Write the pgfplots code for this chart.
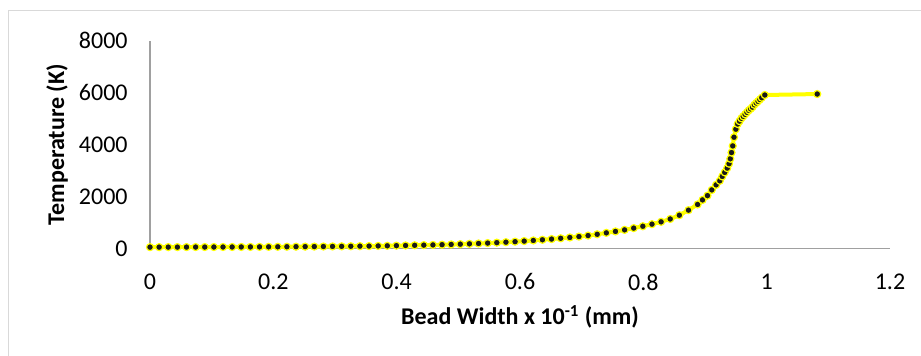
\documentclass[border=0pt]{standalone}
\usepackage{fontspec}
\setmainfont{Carlito}
\usepackage{pgfplots}
\pgfplotsset{compat=1.18}
\definecolor{axgray}{RGB}{160,160,160}
\definecolor{framegray}{RGB}{217,217,217}
\definecolor{yel}{RGB}{255,255,0}
\begin{document}
\fontsize{12bp}{14bp}\selectfont
\begin{tikzpicture}
\begin{axis}[
  scale only axis,
  width=370bp, height=103.8bp,
  xmin=0, xmax=1.2, ymin=0, ymax=8000,
  axis lines=left,
  axis line style={draw=axgray, line width=0.75bp, -},
  major tick length=0pt,
  xtick={0,0.2,0.4,0.6,0.8,1,1.2},
  xticklabels={0,0.2,0.4,0.6,0.8,1,1.2},
  ytick={0,2000,4000,6000,8000},
  yticklabels={0,2000,4000,6000,8000},
  scaled ticks=false,
  /pgf/number format/assume math mode=true,
  tick label style={font=\fontsize{12bp}{14bp}\selectfont, inner sep=0pt, text=black},
  yticklabel style={anchor=east, xshift=-11bp},
  xticklabel style={anchor=north, yshift=-12.5bp},
  every axis y label/.style={at={(axis description cs:0,0.5)}, xshift=-46.5bp, rotate=90, anchor=center},
  every axis x label/.style={at={(axis description cs:0.5,0)}, yshift=-34.2bp, anchor=center},
  ylabel={\fontsize{12bp}{14bp}\selectfont\bfseries Temperature (K)},
  xlabel={\fontsize{12bp}{14bp}\selectfont\bfseries Bead Width x 10\textsuperscript{-1} (mm)},
  clip=false,
]
\addplot[color=yel, line width=2.0bp, mark=*, mark size=1.75bp,
  mark options={fill=black!90, draw=yel, line width=0.6bp}] table {
x y
0.0000 45
0.0148 45
0.0296 46
0.0444 46
0.0592 47
0.0740 48
0.0888 48
0.1036 49
0.1184 50
0.1332 51
0.1480 52
0.1628 53
0.1776 55
0.1924 56
0.2072 58
0.2220 60
0.2368 62
0.2516 64
0.2664 66
0.2812 69
0.2960 72
0.3108 75
0.3256 78
0.3404 82
0.3552 86
0.3700 91
0.3848 96
0.3996 102
0.4144 108
0.4292 115
0.4440 122
0.4588 130
0.4736 139
0.4884 149
0.5032 160
0.5180 172
0.5328 186
0.5476 201
0.5624 218
0.5772 236
0.5920 256
0.6068 278
0.6216 302
0.6364 328
0.6512 356
0.6660 386
0.6808 418
0.6956 452
0.7104 490
0.7252 540
0.7400 595
0.7548 650
0.7696 710
0.7844 778
0.7992 850
0.8140 930
0.8288 1020
0.8436 1130
0.8584 1275
0.8732 1470
0.8880 1690
0.896 1865
0.904 2030
0.911 2250
0.918 2445
0.924 2600
0.928 2770
0.932 2925
0.936 3090
0.939 3260
0.941 3450
0.943 3690
0.945 3945
0.947 4280
0.950 4590
0.953 4790
0.956 4900
0.959 5009
0.962 5085
0.965 5163
0.968 5240
0.971 5315
0.974 5375
0.977 5440
0.980 5530
0.983 5600
0.986 5665
0.989 5735
0.992 5803
0.997 5907
1.082 5945
};
\end{axis}
\draw[framegray, line width=0.6bp] (385.5bp,118.9bp) -- (-70.75bp,118.9bp) -- (-70.75bp,-53.85bp);
\pgfresetboundingbox
\path[use as bounding box] (-75bp,-53.85bp) rectangle (385.5bp,124.15bp);
\end{tikzpicture}
\end{document}
